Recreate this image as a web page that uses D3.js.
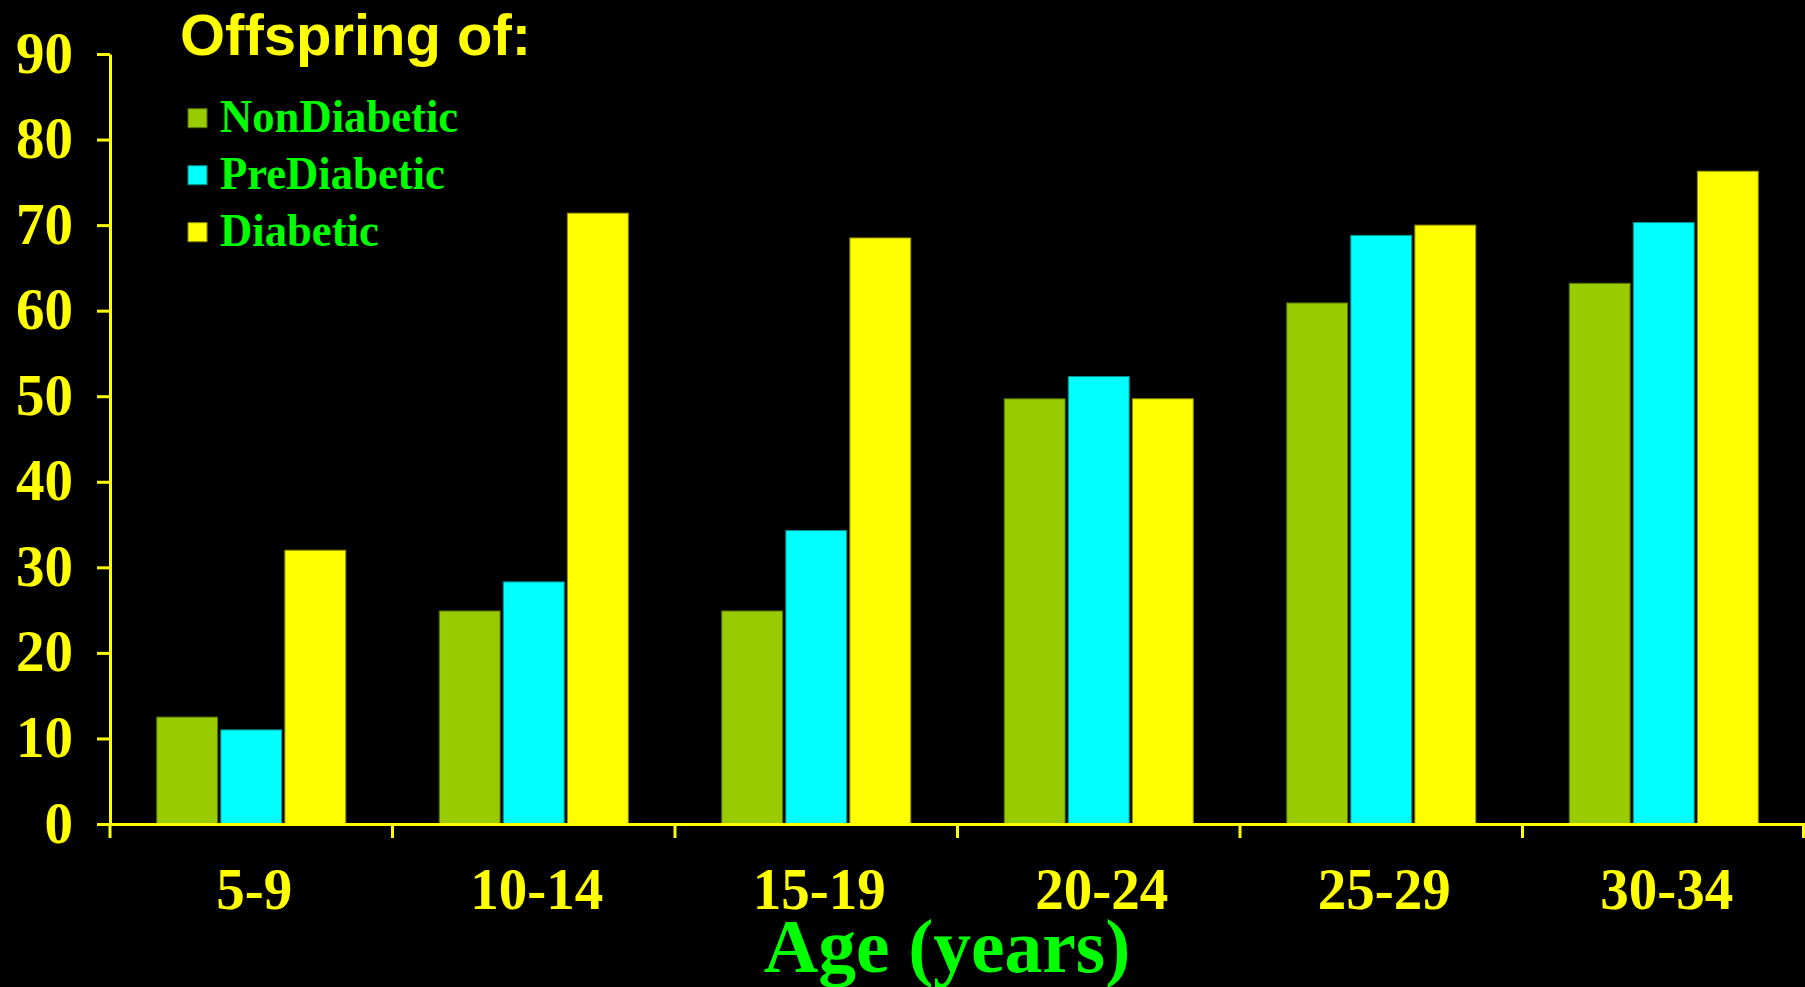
<!DOCTYPE html>
<html>
<head>
<meta charset="utf-8">
<script src="https://cdn.jsdelivr.net/npm/d3@7"></script>
<style>
  html, body { margin: 0; padding: 0; background: #000; }
  svg { display: block; }
</style>
</head>
<body>
<svg id="chart" width="1805" height="987"></svg>
<script>
// Age groups along the x axis
const ageGroups = ["5-9", "10-14", "15-19", "20-24", "25-29", "30-34"];

// Series names and values (percent) per age group
const seriesNames = ["NonDiabetic", "PreDiabetic", "Diabetic"];
const nonDiabetic = [12.5, 24.9, 24.9, 49.7, 60.9, 63.2];
const preDiabetic = [11.0, 28.3, 34.3, 52.3, 68.8, 70.3];
const diabetic    = [32.0, 71.4, 68.5, 49.7, 70.0, 76.3];
const seriesValues = [nonDiabetic, preDiabetic, diabetic];

// Y axis tick labels
const yTicks = [0, 10, 20, 30, 40, 50, 60, 70, 80, 90];

const colors = ["#99cc00", "#00ffff", "#ffff00"];
const axisColor = "#ffff00";
const serif = "'Liberation Serif', 'Times New Roman', serif";
const sans = "'Liberation Sans', Arial, sans-serif";

const svg = d3.select("#chart");
const W = 1805, H = 987;
svg.append("rect").attr("width", W).attr("height", H).attr("fill", "#000");

const plotLeft = 110, plotRight = 1805, plotTop = 54, plotBottom = 824;

const x0 = d3.scaleBand().domain(ageGroups).range([plotLeft, plotRight]).paddingInner(0).paddingOuter(0);
const groupWidth = 189;
const x1 = d3.scaleBand().domain(seriesNames).range([0, groupWidth]).paddingInner(0.05);
const y = d3.scaleLinear().domain([0, 90]).range([plotBottom, plotTop]);
const color = d3.scaleOrdinal().domain(seriesNames).range(colors);

// squeeze serif labels slightly horizontally
function squeeze(sel, factor) {
  sel.each(function () {
    const len = this.getComputedTextLength();
    d3.select(this).attr("textLength", len * factor).attr("lengthAdjust", "spacingAndGlyphs");
  });
}

// Bars
const rows = ageGroups.map((g, i) => ({ group: g, values: seriesNames.map((s, j) => ({ series: s, value: seriesValues[j][i] })) }));
const groups = svg.append("g").selectAll("g").data(rows).join("g")
  .attr("transform", d => `translate(${x0(d.group) + (x0.bandwidth() - groupWidth) / 2},0)`);
groups.selectAll("rect").data(d => d.values).join("rect")
  .attr("x", d => x1(d.series))
  .attr("y", d => y(d.value))
  .attr("width", x1.bandwidth())
  .attr("height", d => y(0) - y(d.value))
  .attr("fill", d => color(d.series))
  .attr("stroke", d => d3.color(color(d.series)).darker(1.6))
  .attr("stroke-width", 1);

// Y axis
const yAxis = svg.append("g").attr("transform", `translate(${plotLeft},0)`)
  .call(d3.axisLeft(y).tickValues(yTicks).tickSize(13).tickSizeOuter(0).tickPadding(24).tickFormat(d3.format("d")));
yAxis.select(".domain").attr("stroke", axisColor).attr("stroke-width", 3);
yAxis.selectAll(".tick line").attr("stroke", axisColor).attr("stroke-width", 3);
yAxis.selectAll(".tick text")
  .attr("fill", axisColor)
  .style("font-family", serif).style("font-weight", "bold").style("font-size", "60px")
  .attr("dy", "0.3em")
  .call(squeeze, 0.95);

// X axis: baseline line, ticks at group boundaries, labels at group centres
const xAxis = svg.append("g").attr("transform", `translate(0,${plotBottom})`)
  .call(d3.axisBottom(x0).tickSize(0).tickSizeOuter(0));
xAxis.select(".domain").attr("stroke", axisColor).attr("stroke-width", 3);
xAxis.selectAll(".tick text")
  .attr("fill", axisColor)
  .attr("y", 85).attr("dy", 0)
  .attr("dx", 3)
  .style("font-family", serif).style("font-weight", "bold").style("font-size", "60px")
  .call(squeeze, 0.95);

const boundaries = ageGroups.map(g => x0(g)).concat([x0.range()[1] - 1.5]);
xAxis.selectAll("line.boundary").data(boundaries).join("line")
  .attr("class", "boundary")
  .attr("x1", d => d).attr("x2", d => d)
  .attr("y1", 0).attr("y2", 14)
  .attr("stroke", axisColor).attr("stroke-width", 3);

// X axis title
svg.append("text")
  .attr("x", 947).attr("y", 972)
  .attr("text-anchor", "middle")
  .attr("fill", "#00ff00")
  .style("font-family", serif).style("font-weight", "bold").style("font-size", "77px")
  .text("Age (years)")
  .call(squeeze, 0.98);

// Legend title
svg.append("text")
  .attr("x", 180).attr("y", 55)
  .attr("fill", "#ffff00")
  .style("font-family", sans).style("font-weight", "bold").style("font-size", "58px")
  .text("Offspring of:");

// Legend entries
const legend = svg.append("g").selectAll("g").data(seriesNames).join("g")
  .attr("transform", (d, i) => `translate(188,${131.7 + i * 57})`);
legend.append("rect")
  .attr("x", 0).attr("y", -23).attr("width", 19).attr("height", 19)
  .attr("fill", d => color(d))
  .attr("stroke", d => d3.color(color(d)).darker(1.6)).attr("stroke-width", 1);
legend.append("text")
  .attr("x", 32).attr("y", 0)
  .attr("fill", "#00ff00")
  .style("font-family", serif).style("font-weight", "bold").style("font-size", "47px")
  .text(d => d)
  .call(squeeze, 0.95);
</script>
</body>
</html>
